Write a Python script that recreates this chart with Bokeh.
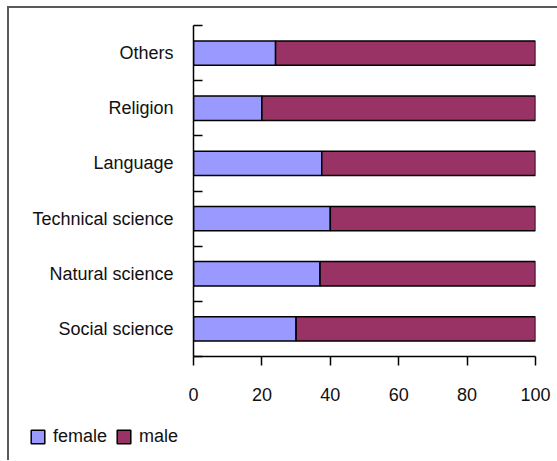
from bokeh.plotting import figure
from bokeh.layouts import column
from bokeh.models import ColumnDataSource, FixedTicker, Range1d, Legend
from bokeh.embed import file_html
from bokeh.resources import INLINE

# Share of female and male (%) per field of study, bottom to top
categories = ["Social science", "Natural science", "Technical science",
              "Language", "Religion", "Others"]
female = [30, 37, 40, 37.5, 20, 24]
male = [70, 63, 60, 62.5, 80, 76]
x_ticks = [0, 20, 40, 60, 80, 100]
series = ["female", "male"]

FONT = "'Liberation Sans', Arial, sans-serif"
COLORS = ["#9999FF", "#993366"]
TEXT = "#111111"

ypos = [i + 0.5 for i in range(len(categories))]
source = ColumnDataSource(dict(y=ypos, female=female, male=male))

p = figure(width=548, height=410, output_backend="svg", toolbar_location=None,
           x_range=Range1d(0, 100), y_range=Range1d(0, len(categories)),
           min_border_left=184, min_border_right=22, min_border_top=17,
           min_border_bottom=62)
p.frame_align = False

p.hbar_stack(series, y="y", height=0.44, color=COLORS, source=source,
             line_color="black", line_width=1.5)

p.grid.visible = False
p.outline_line_color = None
p.background_fill_color = "white"
p.border_fill_color = "white"

# x axis: ticks pointing outward below the frame
xa = p.xaxis[0]
xa.ticker = FixedTicker(ticks=x_ticks)
xa.major_tick_in = 0
xa.major_tick_out = 9
xa.minor_tick_line_color = None
xa.axis_line_width = 1.5
xa.major_tick_line_width = 1.5
xa.axis_line_color = "black"
xa.major_tick_line_color = "black"
xa.major_label_text_font = FONT
xa.major_label_text_font_size = "18px"
xa.major_label_text_color = TEXT
xa.major_label_standoff = 22

# y axis: labels at band centres, ticks at band boundaries
ya = p.yaxis[0]
ya.ticker = FixedTicker(ticks=ypos, minor_ticks=list(range(len(categories) + 1)))
ya.major_label_overrides = {y: c for y, c in zip(ypos, categories)}
ya.major_tick_line_color = None
ya.major_tick_in = 0
ya.major_tick_out = 0
ya.minor_tick_in = 9
ya.minor_tick_out = 0
ya.minor_tick_line_width = 1.5
ya.minor_tick_line_color = "black"
ya.axis_line_width = 1.5
ya.axis_line_color = "black"
ya.major_label_text_font = FONT
ya.major_label_text_font_size = "18px"
ya.major_label_text_color = TEXT
ya.major_label_standoff = 20

# legend strip under the chart; swatch glyphs sit outside the visible range
q = figure(width=548, height=42, output_backend="svg", toolbar_location=None,
           x_range=Range1d(0, 1), y_range=Range1d(0, 1),
           x_axis_type=None, y_axis_type=None, min_border=0)
q.frame_align = False
q.grid.visible = False
q.outline_line_color = None
q.border_fill_color = "white"
q.background_fill_color = "white"
swatches = [q.rect(x=[-10], y=[-10], width=1, height=1, fill_color=c,
                   line_color="black", line_width=1.5) for c in COLORS]
legend = Legend(items=[(s, [r]) for s, r in zip(series, swatches)],
                orientation="horizontal", location=(20, 13),
                glyph_width=17, glyph_height=17, label_standoff=7, spacing=8,
                padding=0, margin=0, border_line_color=None,
                background_fill_alpha=0,
                label_text_font=FONT, label_text_font_size="18px",
                label_text_color=TEXT)
q.add_layout(legend, "center")

layout = column(p, q, spacing=0)
layout.styles = {"margin-left": "7px", "margin-top": "6px",
                 "border-left": "2px solid #5a5a5a",
                 "border-top": "2px solid #5a5a5a"}

open("out.html", "w").write(file_html(layout, INLINE))
